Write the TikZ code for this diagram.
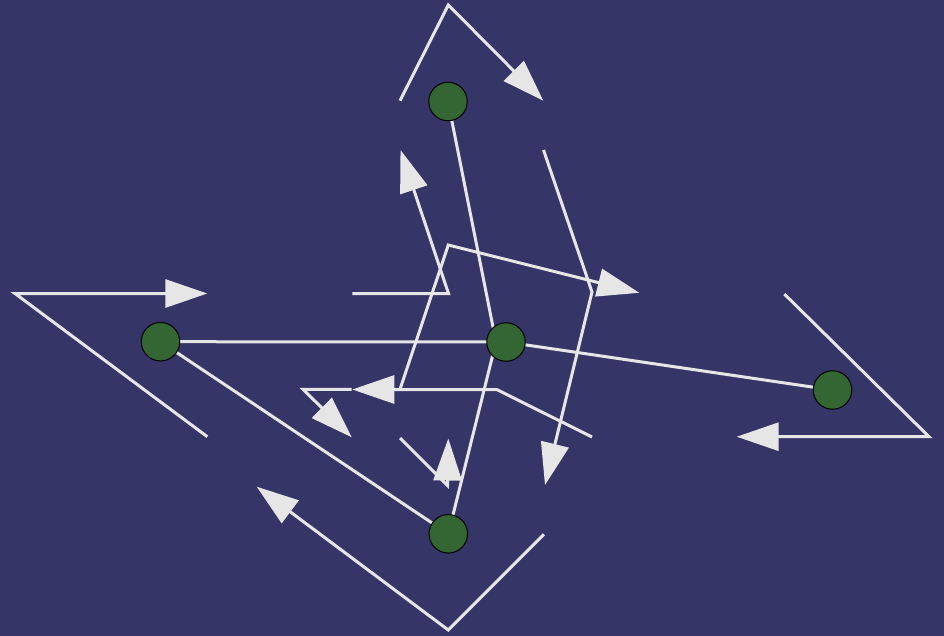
\documentclass[tikz,border=0pt]{standalone}
\usetikzlibrary{arrows.meta,backgrounds}
\definecolor{bg}{HTML}{353567}
\definecolor{dot}{HTML}{336633}
\definecolor{ln}{HTML}{E6E6E6}
\begin{document}
\begin{tikzpicture}[x=1pt,y=-1pt,
  dotnode/.style={circle,fill=dot,draw=black,line width=1pt,minimum size=38.5pt,inner sep=0pt},
  edge/.style={draw=ln,line width=3pt},
  flow/.style={draw=ln,line width=3pt,-{Triangle[length=42pt,width=28pt,fill=ln]}}]
\useasboundingbox (0,0) rectangle (944,636);
% nodes
\node[dotnode] (n1) at (448,101.5) {};
\node[dotnode] (n2) at (506,342) {};
\node[dotnode] (n3) at (160.5,341.7) {};
\node[dotnode] (n4) at (832.5,390) {};
\node[dotnode] (n5) at (448.3,533.8) {};
\begin{pgfonlayer}{background}
  \fill[bg] (0,0) rectangle (944,636);
  \draw[edge] (n1.center) -- ([xshift=-10pt]n2.center);
  \draw[edge] (n5.center) -- ([xshift=-10pt]n2.center);
  \draw[edge] (n3.center) -- (n2.center);
  \draw[edge] (n2.center) -- (n4.center);
  \draw[edge] (n3.center) -- (n5.center);
\end{pgfonlayer}
% free arrows
\draw[flow] (400,100.7) -- (448.3,5) -- (543.3,100.7);
\draw[flow] (207.3,436.7) -- (15,293.5) -- (207.3,293.5);
\draw[flow] (784.3,294) -- (929,436.7) -- (736.7,436.7);
\draw[flow] (544,534.3) -- (448.3,630) -- (256.7,486.7);
\draw[flow] (352.3,293.5) -- (448.5,293.5) -- (400.5,150);
\draw[flow] (400,389.3) -- (448.3,245) -- (639.3,292.8);
\draw[flow] (543.5,150) -- (592,292) -- (545,485);
\draw[flow] (592,437) -- (496.7,389.5) -- (352.3,389.5);
\draw[flow] (351.7,389.3) -- (303,389.3) -- (351.7,437.3);
\draw[flow] (400,438) -- (447.5,485.5) -- (448.3,438.5);
\end{tikzpicture}
\end{document}
